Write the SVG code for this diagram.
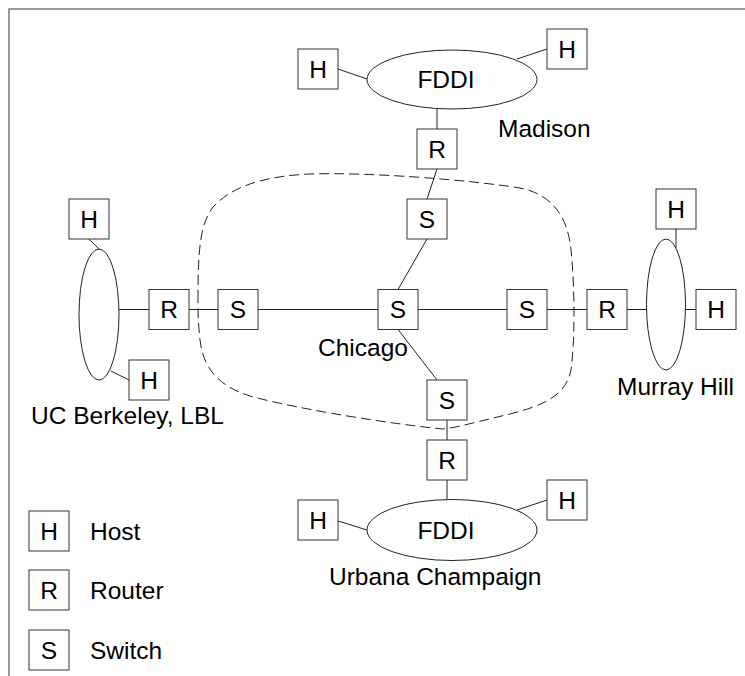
<svg xmlns="http://www.w3.org/2000/svg" width="745" height="676" viewBox="0 0 745 676">
<style>
.box{fill:#fff;stroke:#333;stroke-width:1}
.ring{fill:#fff;stroke:#222;stroke-width:1}
.lbl{font-family:"Liberation Sans",Arial,sans-serif;font-size:24.5px;fill:#000}
.c{text-anchor:middle}
.ln{stroke:#222;stroke-width:1;fill:none}
.dash{stroke:#222;stroke-width:1;fill:none;stroke-dasharray:10,5}
.frame{stroke:#777;stroke-width:1.5;fill:none}
</style>
<rect width="745" height="676" fill="#fff"/>
<path class="frame" d="M9,676 V9 H745"/>

<g id="backbone">
<path class="dash" d="M198,300 C198,250 200,224 213,207 C232,186 265,176 310,174 C370,172 470,180 520,188 C555,195 568,220 571,250 C575,290 575,340 571,370 C566,395 545,405 510,414 C480,421 455,428 443,429 C400,425 300,410 250,396 C215,385 203,365 200,340 C198,322 198,310 198,300 Z"/>
</g>

<g id="connectors">
<line class="ln" x1="338" y1="69" x2="367" y2="79"/>
<line class="ln" x1="517" y1="59" x2="547" y2="49"/>
<line class="ln" x1="437" y1="109" x2="437" y2="129"/>
<line class="ln" x1="437" y1="169" x2="427" y2="199"/>
<line class="ln" x1="427" y1="239" x2="398" y2="289.5"/>
<line class="ln" x1="119" y1="309.5" x2="149" y2="309.5"/>
<line class="ln" x1="189" y1="309.5" x2="218" y2="309.5"/>
<line class="ln" x1="258" y1="309.5" x2="378" y2="309.5"/>
<line class="ln" x1="418" y1="309.5" x2="507" y2="309.5"/>
<line class="ln" x1="547" y1="309.5" x2="587" y2="309.5"/>
<line class="ln" x1="627" y1="309.5" x2="647" y2="309.5"/>
<line class="ln" x1="685" y1="309.5" x2="696" y2="309.5"/>
<line class="ln" x1="398" y1="329.5" x2="437" y2="380"/>
<line class="ln" x1="447" y1="420" x2="447" y2="440"/>
<line class="ln" x1="447" y1="480" x2="447" y2="499.5"/>
<line class="ln" x1="338" y1="521" x2="367" y2="530"/>
<line class="ln" x1="517" y1="510" x2="547" y2="500"/>
<line class="ln" x1="89" y1="239" x2="99" y2="249"/>
<line class="ln" x1="111" y1="371" x2="129" y2="380"/>
<line class="ln" x1="676" y1="229" x2="676" y2="248"/>
</g>

<!-- Madison -->
<g id="mad-fddi"><ellipse class="ring" cx="452" cy="79.5" rx="85" ry="29.5"/><text class="lbl c" x="446" y="87.5">FDDI</text></g>
<g id="mad-h1"><rect class="box" x="298" y="49" width="40" height="40"/><text class="lbl c" x="318" y="77.8">H</text></g>
<g id="mad-h2"><rect class="box" x="547" y="29" width="40" height="40"/><text class="lbl c" x="567" y="57.8">H</text></g>
<g id="mad-r"><rect class="box" x="417" y="129" width="40" height="40"/><text class="lbl c" x="437" y="157.8">R</text></g>
<g id="mad-label"><text class="lbl" x="498" y="137">Madison</text></g>

<!-- Chicago -->
<g id="chi-s-top"><rect class="box" x="407" y="199" width="40" height="40"/><text class="lbl c" x="427" y="227.8">S</text></g>
<g id="chi-s-center"><rect class="box" x="378" y="289.5" width="40" height="40"/><text class="lbl c" x="398" y="318.3">S</text></g>
<g id="chi-s-left"><rect class="box" x="218" y="289.5" width="40" height="40"/><text class="lbl c" x="238" y="318.3">S</text></g>
<g id="chi-s-right"><rect class="box" x="507" y="289.5" width="40" height="40"/><text class="lbl c" x="527" y="318.3">S</text></g>
<g id="chi-s-bottom"><rect class="box" x="427" y="380" width="40" height="40"/><text class="lbl c" x="447" y="408.8">S</text></g>
<g id="chi-label"><text class="lbl" x="318" y="356">Chicago</text></g>

<!-- Urbana -->
<g id="urb-r"><rect class="box" x="427" y="440" width="40" height="40"/><text class="lbl c" x="447" y="468.8">R</text></g>
<g id="urb-fddi"><ellipse class="ring" cx="452" cy="530" rx="85" ry="30.5"/><text class="lbl c" x="446" y="538.5">FDDI</text></g>
<g id="urb-h1"><rect class="box" x="298" y="500" width="40" height="40"/><text class="lbl c" x="318" y="528.8">H</text></g>
<g id="urb-h2"><rect class="box" x="547" y="480" width="40" height="40"/><text class="lbl c" x="567" y="508.8">H</text></g>
<g id="urb-label"><text class="lbl" x="329" y="585">Urbana Champaign</text></g>

<!-- Berkeley -->
<g id="ucb-ring"><ellipse class="ring" cx="99" cy="314.5" rx="20" ry="65.5"/></g>
<g id="ucb-r"><rect class="box" x="149" y="289.5" width="40" height="40"/><text class="lbl c" x="169" y="318.3">R</text></g>
<g id="ucb-h1"><rect class="box" x="69" y="199" width="40" height="40"/><text class="lbl c" x="89" y="227.8">H</text></g>
<g id="ucb-h2"><rect class="box" x="129" y="360" width="40" height="40"/><text class="lbl c" x="149" y="388.8">H</text></g>
<g id="ucb-label"><text class="lbl" x="31" y="424">UC Berkeley, LBL</text></g>

<!-- Murray Hill -->
<g id="mh-ring"><ellipse class="ring" cx="666" cy="304.5" rx="19.5" ry="65.5"/></g>
<g id="mh-r"><rect class="box" x="587" y="289.5" width="40" height="40"/><text class="lbl c" x="607" y="318.3">R</text></g>
<g id="mh-h1"><rect class="box" x="656" y="189" width="40" height="40"/><text class="lbl c" x="676" y="217.8">H</text></g>
<g id="mh-h2"><rect class="box" x="696" y="289.5" width="40" height="40"/><text class="lbl c" x="716" y="318.3">H</text></g>
<g id="mh-label"><text class="lbl" x="617" y="395">Murray Hill</text></g>

<!-- Legend -->
<g id="legend-host"><rect class="box" x="29" y="511" width="40" height="40"/><text class="lbl c" x="49" y="539.8">H</text><text class="lbl" x="90" y="539.8">Host</text></g>
<g id="legend-router"><rect class="box" x="29" y="570" width="40" height="40"/><text class="lbl c" x="49" y="598.8">R</text><text class="lbl" x="90" y="598.8">Router</text></g>
<g id="legend-switch"><rect class="box" x="29" y="630" width="40" height="40"/><text class="lbl c" x="49" y="658.8">S</text><text class="lbl" x="90" y="658.8">Switch</text></g>
</svg>
